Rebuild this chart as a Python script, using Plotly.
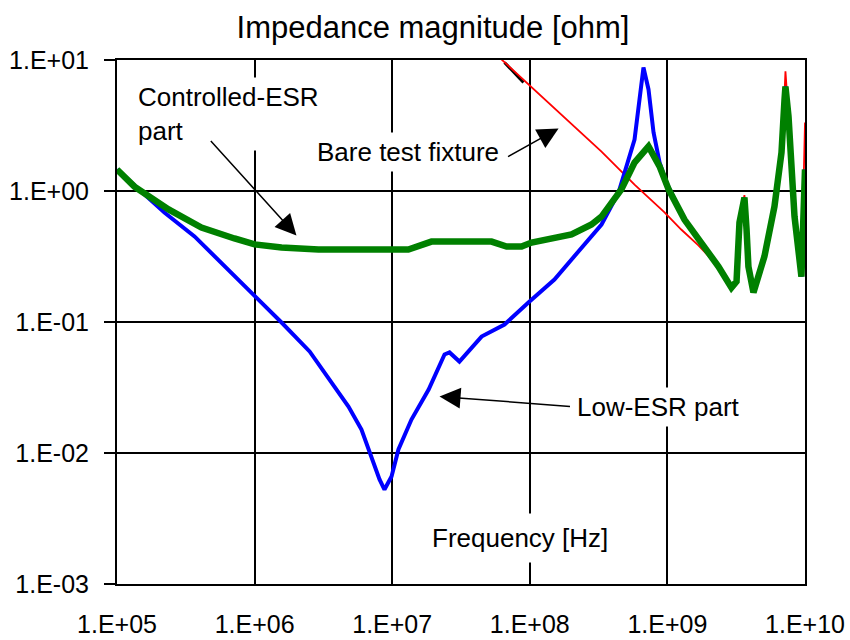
import plotly.graph_objects as go

# ---- data ----
low_esr_freq = [1.0e5, 2.21e5, 3.66e5, 7.64e5, 1.0e6, 1.57e6, 2.51e6, 3.80e6, 4.81e6, 5.98e6,
                7.06e6, 8.09e6, 8.79e6, 9.89e6, 1.11e7, 1.38e7, 1.84e7, 2.40e7, 2.61e7, 3.08e7,
                4.46e7, 6.55e7, 9.77e7, 1.51e8, 3.32e8, 4.42e8, 5.77e8, 6.27e8, 6.70e8, 7.29e8,
                7.93e8, 8.77e8, 9.84e8,
                1.33e9, 1.77e9, 2.35e9, 2.92e9, 3.18e9, 3.34e9, 3.63e9, 3.76e9, 3.88e9, 4.22e9,
                5.07e9, 6.00e9, 6.75e9, 7.10e9, 7.21e9, 7.59e9, 7.98e9, 8.39e9, 9.42e9, 1.0e10]
low_esr_z = [1.46, 0.685, 0.450, 0.211, 0.159, 0.0991, 0.0596, 0.0322, 0.0226, 0.0151,
             0.00940, 0.00628, 0.00526, 0.00662, 0.01064, 0.0180, 0.0305, 0.0565, 0.0586, 0.0499,
             0.0774, 0.0957, 0.141, 0.211, 0.555, 0.975, 2.47, 4.99, 8.77, 5.96,
             2.80, 1.65, 1.16,
             0.605, 0.404, 0.265, 0.183, 0.204, 0.575, 0.891, 0.508, 0.265, 0.168,
             0.316, 0.762, 1.97, 4.99, 6.28, 3.71, 1.65, 0.640, 0.222, 1.46]

ctrl_esr_freq = [1.0e5, 1.34e5, 2.37e5, 4.11e5, 7.14e5, 1.0e6, 1.57e6, 2.91e6, 1.31e7, 1.93e7,
                 5.27e7, 6.78e7, 8.71e7, 1.03e8, 2.01e8, 2.81e8, 3.32e8, 4.63e8, 5.77e8, 7.29e8,
                 8.77e8, 1.02e9, 1.33e9, 1.77e9, 2.35e9, 2.92e9, 3.18e9, 3.34e9, 3.63e9, 3.76e9,
                 3.88e9, 4.22e9, 5.07e9, 6.00e9, 6.75e9, 7.10e9, 7.21e9, 7.59e9, 7.98e9, 8.39e9,
                 9.42e9, 1.0e10]
ctrl_esr_z = [1.46, 1.08, 0.723, 0.526, 0.434, 0.391, 0.371, 0.357, 0.357, 0.411,
              0.411, 0.377, 0.377, 0.404, 0.466, 0.555, 0.638, 1.03, 1.65, 2.19,
              1.54, 1.03, 0.605, 0.404, 0.265, 0.183, 0.204, 0.575, 0.891, 0.508,
              0.265, 0.168, 0.316, 0.762, 1.97, 4.99, 6.28, 3.71, 1.65, 0.640,
              0.222, 1.46]

fixture_freq = [6.22e7, 9.77e7, 2.49e8, 3.32e8, 5.77e8, 9.53e8, 1.26e9, 1.68e9, 2.35e9, 2.92e9,
                3.18e9, 3.34e9, 3.63e9, 3.76e9, 3.88e9, 4.22e9, 5.07e9, 6.00e9, 6.75e9, 7.10e9,
                7.21e9, 7.59e9, 7.98e9, 8.39e9, 9.42e9, 1.0e10]
fixture_z = [10.1, 6.50, 2.61, 2.00, 1.12, 0.686, 0.508, 0.384, 0.265, 0.183,
             0.204, 0.575, 0.93, 0.508, 0.265, 0.168, 0.316, 0.762, 1.97, 5.6,
             8.2, 3.71, 1.65, 0.640, 0.222, 3.33]

residual_freq = [6.55e7, 7.60e7, 9.0e7]
residual_z = [9.57, 8.17, 6.73]

y_tickvals = [1e-3, 1e-2, 1e-1, 1e0, 1e1]
y_ticktext = ["1.E-03", "1.E-02", "1.E-01", "1.E+00", "1.E+01"]
x_tickvals = [1e5, 1e6, 1e7, 1e8, 1e9, 1e10]
x_ticktext = ["1.E+05", "1.E+06", "1.E+07", "1.E+08", "1.E+09", "1.E+10"]

FONT = "Liberation Sans, Arial, sans-serif"

fig = go.Figure()
fig.add_trace(go.Scatter(x=residual_freq, y=residual_z, mode="lines",
                         line=dict(color="black", width=3), showlegend=False))
fig.add_trace(go.Scatter(x=fixture_freq, y=fixture_z, mode="lines",
                         line=dict(color="red", width=1.8), showlegend=False))
fig.add_trace(go.Scatter(x=low_esr_freq, y=low_esr_z, mode="lines",
                         line=dict(color="#0000ff", width=4), showlegend=False))
fig.add_trace(go.Scatter(x=ctrl_esr_freq, y=ctrl_esr_z, mode="lines",
                         line=dict(color="#008000", width=6.5), showlegend=False))

L, R, T, B = 117, 805, 60, 584
W, H = 850, 640


def px(x):
    return (x - L) / (R - L)


def py(y):
    return (B - y) / (B - T)


text_anns = [
    dict(text="Controlled-ESR<br>part", x=px(228), y=py(114), align="left", borderpad=4),
    dict(text="Bare test fixture", x=px(408), y=py(152), align="center", borderpad=4),
    dict(text="Low-ESR part", x=px(658), y=py(407), align="center", borderpad=4),
    dict(text="Frequency [Hz]", x=px(520), y=py(538), align="center", borderpad=9),
]
annotations = []
for a in text_anns:
    annotations.append(dict(xref="paper", yref="paper", xanchor="center", yanchor="middle",
                            showarrow=False, bgcolor="white",
                            font=dict(family=FONT, size=26, color="black"), **a))

arrows = [
    ((6.304, -0.340), (5.672, 0.393)),
    ((8.209, 0.477), (7.831, 0.256)),
    ((7.344, -1.569), (8.303, -1.645)),
]
for (tx, ty), (sx, sy) in arrows:
    annotations.append(dict(x=tx, y=ty, ax=sx, ay=sy, xref="x", yref="y", axref="x", ayref="y",
                            text="", showarrow=True, arrowhead=2, arrowsize=2.8, arrowwidth=1.5,
                            arrowcolor="black", standoff=0, startstandoff=0))

fig.update_layout(
    width=W, height=H,
    margin=dict(l=L, r=W - R, t=T, b=H - B, autoexpand=False),
    paper_bgcolor="white", plot_bgcolor="white",
    font=dict(family=FONT, size=25, color="black"),
    title=dict(text="Impedance magnitude [ohm]", font=dict(family=FONT, size=31, color="black"),
               xref="container", yref="container", x=433 / W, y=1 - 27 / H,
               xanchor="center", yanchor="middle"),
    annotations=annotations,
    showlegend=False,
)
fig.update_xaxes(type="log", range=[5, 10], tickvals=x_tickvals, ticktext=x_ticktext,
                 showgrid=True, gridcolor="black", gridwidth=1.8, automargin=False,
                 showline=True, linecolor="black", linewidth=2, mirror=True,
                 ticks="", ticklabelstandoff=17, zeroline=False,
                 tickfont=dict(family=FONT, size=25, color="black"))
fig.update_yaxes(type="log", range=[-3, 1], tickvals=y_tickvals, ticktext=y_ticktext,
                 showgrid=True, gridcolor="black", gridwidth=1.8, automargin=False,
                 showline=True, linecolor="black", linewidth=2, mirror=True,
                 ticks="outside", ticklen=11, tickwidth=2, tickcolor="black",
                 ticklabelstandoff=10, zeroline=False,
                 tickfont=dict(family=FONT, size=25, color="black"))

fig.write_html("out.html")
